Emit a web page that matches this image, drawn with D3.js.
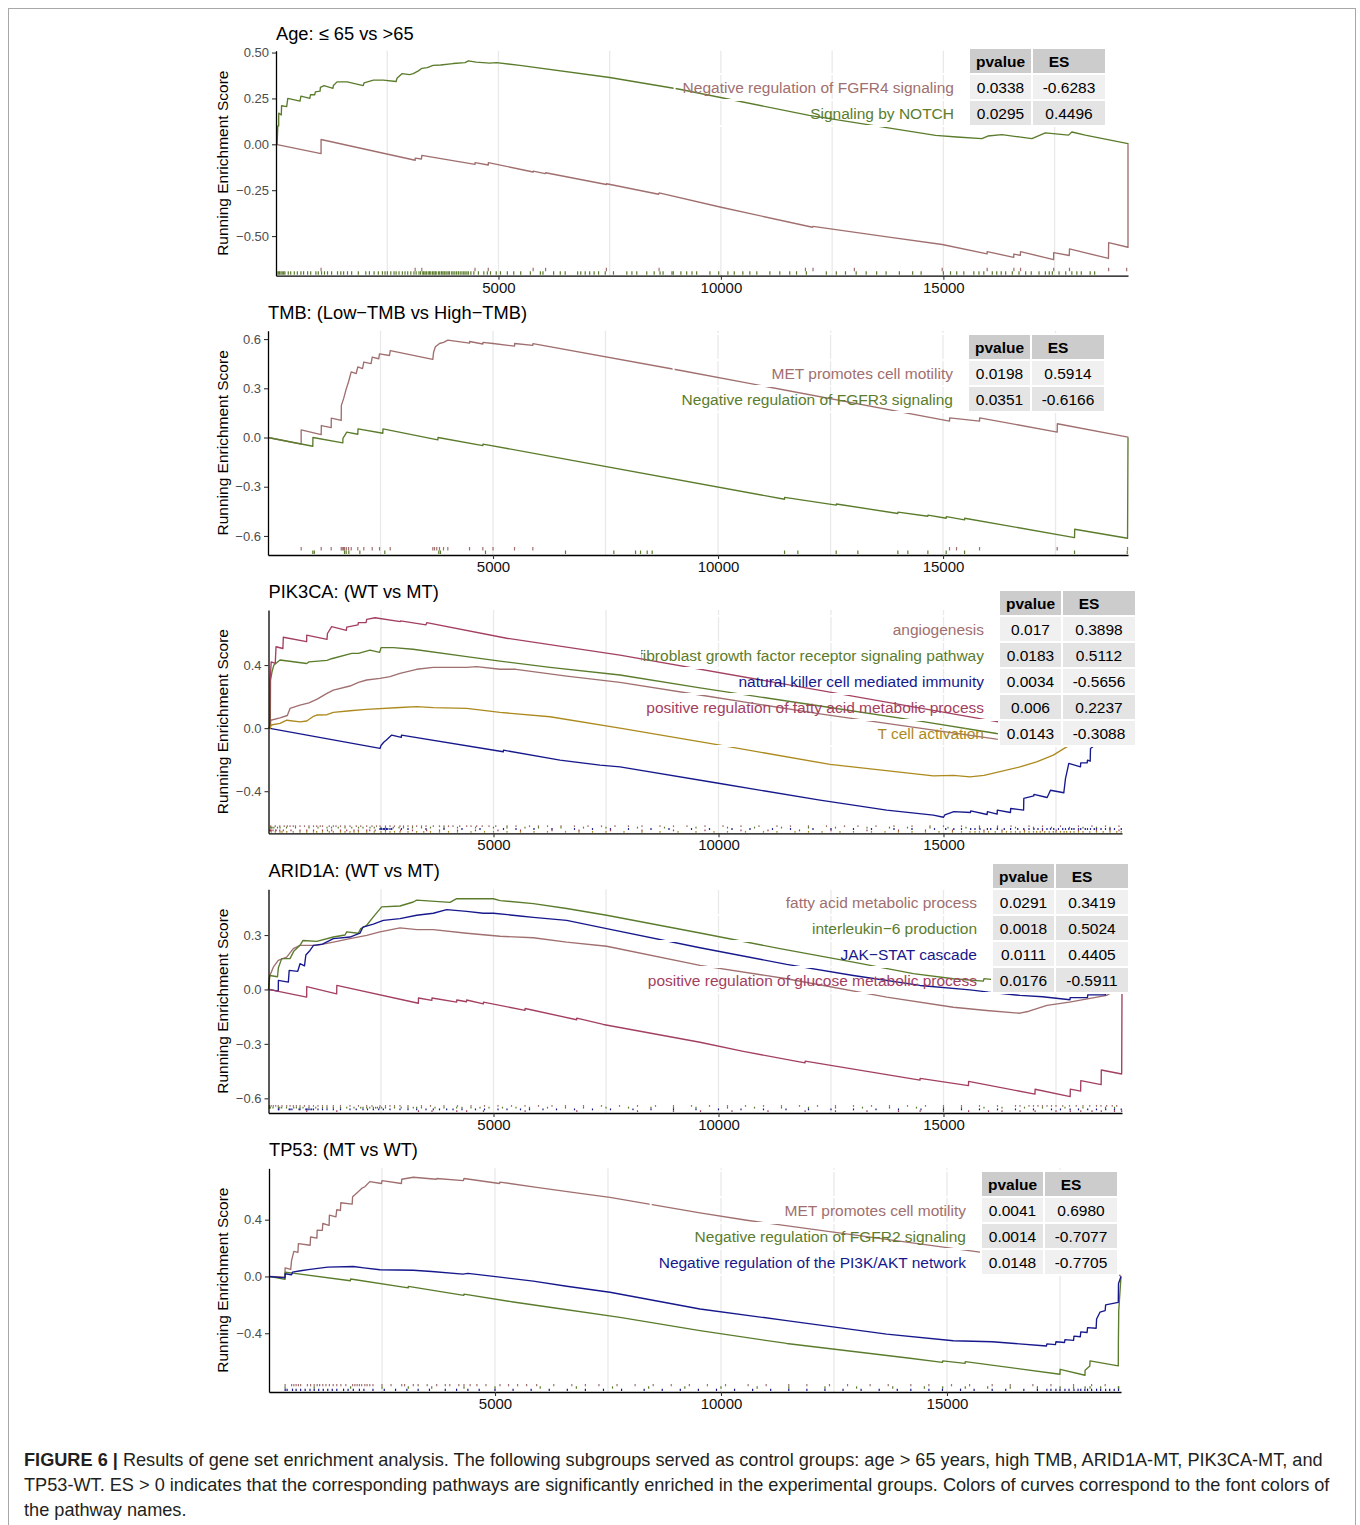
<!DOCTYPE html>
<html><head><meta charset="utf-8">
<script src="https://cdn.jsdelivr.net/npm/d3@7"></script>
<style>
body{margin:0;background:#fff}
svg{display:block}
text{font-family:"Liberation Sans",Arial,Helvetica,sans-serif}
</style>
</head><body>
<svg id="c" width="1360" height="1525"></svg>
<script>
// ---------------- DATA ----------------
const xTickValues = [5000, 10000, 15000];
const xTickLabels = ["5000", "10000", "15000"];
const gridBreaks = [2500, 5000, 7500, 10000, 12500, 15000, 17500];
const tableHeader = ["pvalue", "ES"];

// Panel 1: Age
const ageTitle = "Age: ≤ 65 vs >65";
const ageRankMax = 19150;
const ageYTicks = [0.5, 0.25, 0, -0.25, -0.5];
const ageYTickLabels = ["0.50", "0.25", "0.00", "−0.25", "−0.50"];
const agePathways = ["Negative regulation of FGFR4 signaling", "Signaling by NOTCH"];
const agePvalues = ["0.0338", "0.0295"];
const ageES = ["-0.6283", "0.4496"];
const ageFGFR4Curve = [[0,0],[1013,-0.051],[1013,0.026],[3128,-0.087],[3130,-0.075],[3270,-0.08],[3277,-0.06],[4473,-0.109],[4475,-0.10],[4771,-0.113],[4773,-0.10],[5780,-0.151],[5782,-0.146],[6050,-0.16],[6060,-0.155],[7426,-0.219],[7430,-0.215],[8600,-0.272],[8610,-0.265],[10004,-0.343],[12059,-0.452],[12070,-0.447],[13778,-0.506],[14974,-0.546],[15983,-0.597],[15985,-0.585],[16581,-0.616],[16585,-0.598],[16730,-0.605],[16735,-0.585],[17478,-0.628],[17480,-0.59],[17830,-0.606],[17835,-0.57],[18711,-0.622],[18715,-0.536],[19150,-0.561],[19150,0]];
const ageNOTCHCurve = [[0,0],[25,0],[40,0.10],[60,0.10],[62,0.17],[120,0.16],[125,0.21],[240,0.205],[265,0.25],[540,0.235],[560,0.262],[760,0.25],[775,0.27],[870,0.27],[885,0.286],[990,0.29],[998,0.31],[1080,0.32],[1280,0.305],[1290,0.32],[1372,0.34],[1600,0.34],[1960,0.32],[1980,0.335],[2190,0.35],[2410,0.35],[2700,0.342],[2720,0.36],[2830,0.385],[3000,0.38],[3085,0.385],[3200,0.40],[3280,0.414],[3400,0.418],[3530,0.43],[3700,0.432],[3980,0.44],[4250,0.445],[4323,0.455],[4500,0.448],[4650,0.445],[4800,0.442],[4960,0.445],[5480,0.43],[7500,0.364],[9070,0.30],[11984,0.158],[14825,0.049],[15300,0.04],[15865,0.031],[16000,0.045],[16317,0.053],[16700,0.04],[16990,0.031],[17292,0.062],[17814,0.05],[17888,0.067],[18188,0.05],[19150,0.004],[19150,0]];
const ageFGFR4Rug = [1013,3128,3277,4473,4771,5780,6060,7426,8610,11900,12070,13000,14974,15985,16585,16735,17480,17835,18715,19120];
const ageNOTCHRug = [20,52,80,112,140,172,200,276,330,411,480,560,620,710,780,897,950,1024,1090,1158,1250,1383,1457,1520,1607,1700,1850,2018,2100,2205,2300,2392,2450,2504,2580,2653,2700,2765,2840,2900,2960,3030,3101,3150,3214,3250,3300,3320,3350,3380,3420,3450,3480,3520,3550,3580,3600,3650,3680,3720,3750,3780,3800,3840,3870,3900,3950,3980,4020,4060,4100,4140,4180,4220,4250,4290,4323,4380,4447,4550,4671,4750,4821,4950,5045,5200,5344,5500,5717,5942,6000,6240,6390,6500,6780,6850,6950,7050,7150,7250,7400,7585,7885,8000,8109,8333,8500,8632,8700,8900,8930,9100,9230,9350,9455,9753,9950,10157,10300,10493,10650,10807,11100,11323,11547,11700,11921,12369,12594,12800,13040,13265,13500,13713,14011,14310,14500,15000,15161,15300,15460,15685,15800,15909,16100,16200,16300,16400,16550,16700,16850,16975,17150,17292,17380,17450,17600,17750,17888,18000,18100,18300,18400];

// Panel 2: TMB
const tmbTitle = "TMB: (Low−TMB vs High−TMB)";
const tmbRankMax = 19110;
const tmbYTicks = [0.6, 0.3, 0, -0.3, -0.6];
const tmbYTickLabels = ["0.6", "0.3", "0.0", "−0.3", "−0.6"];
const tmbPathways = ["MET promotes cell motility", "Negative regulation of FGFR3 signaling"];
const tmbPvalues = ["0.0198", "0.0351"];
const tmbES = ["0.5914", "-0.6166"];
const tmbMETCurve = [[0,0],[737,-0.04],[737,0.047],[1182,0.018],[1185,0.073],[1404,0.06],[1407,0.118],[1627,0.104],[1630,0.196],[1680,0.237],[1740,0.298],[1790,0.34],[1849,0.40],[1960,0.39],[1996,0.43],[2100,0.42],[2129,0.46],[2290,0.45],[2316,0.49],[2460,0.48],[2478,0.51],[2700,0.50],[2716,0.53],[3662,0.476],[3680,0.52],[3720,0.553],[3811,0.573],[3900,0.58],[3996,0.594],[4478,0.575],[4480,0.585],[4774,0.57],[4776,0.58],[5000,0.573],[5478,0.557],[5480,0.573],[5885,0.562],[5888,0.572],[9144,0.41],[15144,0.10],[15146,0.12],[15300,0.115],[15811,0.10],[15813,0.12],[17537,0.033],[17540,0.084],[19110,0.002],[19110,0]];
const tmbFGFR3Curve = [[0,0],[996,-0.053],[998,0.0],[1662,-0.033],[1665,-0.005],[1700,0.01],[1750,0.033],[1996,0.02],[2000,0.053],[2551,0.026],[2555,0.053],[3774,-0.014],[3778,0.0],[4774,-0.049],[4778,-0.04],[11478,-0.376],[11480,-0.365],[12626,-0.412],[12630,-0.405],[13996,-0.463],[14000,-0.455],[14663,-0.48],[14666,-0.473],[15070,-0.492],[15073,-0.482],[15478,-0.502],[15480,-0.492],[17922,-0.61],[17925,-0.559],[19100,-0.614],[19110,0]];
const tmbMETRug = [737,1182,1404,1627,1650,1680,1700,1740,1790,1849,1996,2129,2316,2478,2716,3662,3700,3750,3811,3900,3996,4478,4774,5000,5478,5885,15144,15300,15811,17537,19100];
const tmbFGFR3Rug = [996,1029,1700,1737,1796,2041,2596,3796,3833,4833,6611,7685,8167,8278,8426,8537,11478,11774,12626,13107,13996,14218,14663,15070,15478,17922,19093];

// Panel 3: PIK3CA
const pikTitle = "PIK3CA: (WT vs MT)";
const pikRankMax = 18967;
const pikYTicks = [0.4, 0, -0.4];
const pikYTickLabels = ["0.4", "0.0", "−0.4"];
const pikPathways = ["angiogenesis", "fibroblast growth factor receptor signaling pathway", "natural killer cell mediated immunity", "positive regulation of fatty acid metabolic process", "T cell activation"];
const pikPvalues = ["0.017", "0.0183", "0.0034", "0.006", "0.0143"];
const pikES = ["0.3898", "0.5112", "-0.5656", "0.2237", "-0.3088"];
const pikAngioCurve = [[0,0],[40,0.0],[50,0.05],[256,0.065],[418,0.08],[478,0.125],[700,0.146],[900,0.16],[1071,0.182],[1300,0.22],[1441,0.241],[1811,0.267],[2000,0.29],[2182,0.305],[2478,0.315],[2700,0.326],[2922,0.347],[3293,0.373],[3663,0.385],[4404,0.385],[4626,0.39],[5144,0.373],[5500,0.373],[6626,0.33],[7811,0.29],[9589,0.21],[12256,0.09],[16181,-0.07],[17500,-0.09],[18967,0]];
const pikFGFCurve = [[0,0],[40,0.0],[45,0.305],[80,0.36],[120,0.40],[256,0.432],[848,0.41],[900,0.42],[1300,0.43],[1400,0.44],[1850,0.474],[2000,0.474],[2255,0.495],[2470,0.48],[2500,0.51],[2773,0.51],[3211,0.50],[4404,0.453],[5144,0.425],[6256,0.385],[7811,0.337],[9589,0.255],[12256,0.14],[14478,0.044],[16181,-0.034],[17500,-0.06],[18967,0]];
const pikNKCurve = [[0,0],[2478,-0.129],[2500,-0.11],[2560,-0.09],[2620,-0.075],[2738,-0.044],[2952,-0.059],[2955,-0.044],[5218,-0.15],[5222,-0.14],[6478,-0.203],[7367,-0.235],[7811,-0.246],[10033,-0.351],[12256,-0.457],[13737,-0.52],[14774,-0.552],[15000,-0.565],[15030,-0.55],[15230,-0.53],[15600,-0.535],[15605,-0.525],[15970,-0.548],[15975,-0.53],[16193,-0.545],[16196,-0.52],[16489,-0.535],[16492,-0.51],[16780,-0.52],[16785,-0.446],[17007,-0.43],[17010,-0.42],[17304,-0.44],[17378,-0.394],[17674,-0.41],[17711,-0.32],[17785,-0.224],[18044,-0.246],[18050,-0.22],[18193,-0.22],[18200,-0.203],[18260,-0.21],[18267,-0.129],[18600,-0.06],[18967,0]];
const pikFattyCurve = [[0,0],[30,0.0],[35,0.30],[60,0.42],[150,0.41],[167,0.516],[320,0.505],[329,0.576],[848,0.548],[850,0.59],[1300,0.563],[1310,0.60],[1404,0.643],[1730,0.62],[1738,0.64],[1990,0.655],[1996,0.669],[2170,0.67],[2182,0.69],[2367,0.70],[2930,0.675],[2935,0.68],[3500,0.655],[3515,0.669],[5293,0.57],[7811,0.463],[16218,0.04],[17500,-0.02],[17505,0.03],[18960,-0.04],[18967,0]];
const pikTcellCurve = [[0,0],[40,0.0],[60,0.02],[256,0.03],[406,0.05],[700,0.04],[850,0.045],[1000,0.075],[1071,0.083],[1300,0.085],[1441,0.10],[1811,0.11],[2182,0.119],[2922,0.131],[3293,0.136],[3663,0.13],[4404,0.125],[5144,0.10],[6256,0.072],[7811,0.0],[10033,-0.108],[12478,-0.23],[14774,-0.303],[15220,-0.30],[15589,-0.309],[15900,-0.30],[16700,-0.246],[17070,-0.214],[17440,-0.171],[17737,-0.119],[18100,-0.08],[18967,0]];
const pikAngioRug = [50,150,250,350,418,478,550,600,700,800,900,1000,1071,1150,1200,1350,1441,1500,1600,1700,1811,1950,2050,2182,2300,2400,2478,2600,2700,2800,2922,3000,3100,3200,3293,3400,3500,3663,3800,3900,4000,4100,4250,4404,4500,4626,4750,4900,5050,5300,5500,5800,6000,6200,6500,6800,7100,7400,7700,8000,8300,8700,9000,9300,9700,10100,10500,10900,11300,11600,12000,12400,12800,13100,13500,13900,14300,14700,15000,15400,15800,16200,16500,16900,17200,17600,18000,18300,18600,18900];
const pikFGFRug = [45,60,80,120,200,256,400,600,900,1100,1300,1400,1550,1700,1850,2000,2100,2255,2350,2500,2600,2773,2900,3000,3200,3400,3600,3900,4200,4600,5000,5300,5700,6000,6500,7000,7500,8200,8800,9500,10200,10800,11400,12000,12600,13300,13800,14200,14700,15100,15500,15800,16200,16600,17000,17400,17800,18100,18400,18700];
const pikNKRug = [2478,2500,2520,2560,2580,2620,2650,2700,2738,2955,3100,3500,3900,4300,4700,5222,5500,5900,6300,6800,7200,7600,8000,8500,8900,9400,9800,10300,10700,11200,11600,12100,12500,13000,13400,13900,14300,14800,15050,15230,15400,15605,15700,15810,15975,16050,16196,16350,16492,16650,16785,16900,17010,17100,17200,17300,17378,17450,17555,17650,17711,17785,17850,17900,18000,18050,18150,18200,18267,18350,18400,18500,18600,18700,18800,18950];
const pikFattyRug = [30,35,45,60,100,160,167,250,329,500,700,850,1000,1200,1310,1404,1600,1738,1900,1996,2182,2250,2370,2600,2935,3200,3515,3800,4200,4600,5100,5600,6300,6900,7600,8300,9000,9700,10500,11100,11800,12500,13300,14000,14600,15200,15900,16300,16800,17200,17505,18000,18400,18700,18900];
const pikTcellRug = [60,150,256,300,406,550,700,850,1000,1071,1200,1350,1441,1600,1700,1811,1900,2000,2182,2350,2500,2600,2700,2800,2922,3100,3293,3450,3600,3800,4000,4200,4500,4800,5000,5300,5600,5900,6200,6600,6900,7200,7500,7900,8300,8700,9100,9500,9900,10200,10600,11000,11300,11700,12000,12300,12700,13000,13400,13700,14000,14300,14600,14900,15200,15400,15589,15700,15800,15900,16000,16150,16300,16400,16500,16600,16700,16800,16900,17000,17070,17150,17250,17350,17440,17500,17600,17680,17737,17820,17900,18000,18100,18250,18400,18550,18700,18850,18950];

// Panel 4: ARID1A
const aridTitle = "ARID1A: (WT vs MT)";
const aridRankMax = 18967;
const aridYTicks = [0.3, 0, -0.3, -0.6];
const aridYTickLabels = ["0.3", "0.0", "−0.3", "−0.6"];
const aridPathways = ["fatty acid metabolic process", "interleukin−6 production", "JAK−STAT cascade", "positive regulation of glucose metabolic process"];
const aridPvalues = ["0.0291", "0.0018", "0.0111", "0.0176"];
const aridES = ["0.3419", "0.5024", "0.4405", "-0.5911"];
const aridFattyCurve = [[0,0],[20,0.07],[107,0.123],[217,0.16],[404,0.178],[552,0.225],[700,0.243],[1071,0.243],[1441,0.261],[1811,0.28],[2182,0.298],[2478,0.317],[2922,0.339],[3300,0.33],[3663,0.33],[4404,0.31],[5144,0.293],[5885,0.285],[6626,0.261],[7515,0.238],[9589,0.133],[11515,0.059],[13737,-0.042],[15218,-0.098],[15958,-0.116],[16700,-0.131],[16900,-0.12],[17300,-0.088],[17800,-0.07],[18626,-0.033],[18850,0],[18967,0]];
const aridIL6Curve = [[0,0],[20,0.05],[30,0.077],[200,0.07],[220,0.12],[293,0.17],[478,0.17],[560,0.21],[700,0.243],[767,0.27],[1071,0.265],[1441,0.289],[1700,0.30],[1738,0.317],[1996,0.31],[2050,0.335],[2182,0.354],[2330,0.40],[2515,0.455],[2922,0.46],[3218,0.482],[3292,0.492],[4033,0.48],[4181,0.501],[4774,0.5],[4996,0.5],[5150,0.49],[5885,0.473],[6626,0.446],[7515,0.409],[9589,0.311],[11366,0.225],[12996,0.151],[14330,0.087],[15218,0.059],[15885,0.046],[15900,0.06],[17000,0.03],[18967,0]];
const aridJAKCurve = [[0,0],[217,-0.009],[220,0.05],[441,0.04],[460,0.105],[650,0.10],[700,0.142],[800,0.13],[830,0.19],[922,0.215],[1000,0.243],[1200,0.25],[1441,0.28],[1811,0.289],[2033,0.31],[2100,0.344],[2330,0.36],[2552,0.381],[2922,0.39],[3293,0.409],[3663,0.42],[3959,0.44],[4404,0.43],[4774,0.42],[5000,0.42],[5589,0.405],[5885,0.397],[6626,0.381],[7515,0.335],[9589,0.23],[11515,0.138],[12996,0.077],[14478,0.022],[15589,-0.002],[16000,-0.015],[16700,-0.033],[17200,-0.04],[17811,-0.057],[17815,-0.045],[18200,-0.045],[18205,-0.03],[18600,-0.03],[18605,-0.01],[18967,0]];
const aridGlucoseCurve = [[0,0],[848,-0.042],[850,0.016],[1515,-0.024],[1518,0.022],[3330,-0.076],[3333,-0.047],[3630,-0.06],[3633,-0.047],[4181,-0.07],[4184,-0.058],[4400,-0.068],[4404,-0.058],[4774,-0.08],[4777,-0.07],[5700,-0.115],[5703,-0.105],[6848,-0.167],[6851,-0.158],[7441,-0.193],[9589,-0.291],[10552,-0.341],[11922,-0.405],[11925,-0.395],[14478,-0.5],[14481,-0.49],[15555,-0.53],[15558,-0.507],[17033,-0.577],[17036,-0.55],[17815,-0.591],[17818,-0.549],[18048,-0.56],[18051,-0.503],[18504,-0.525],[18507,-0.444],[18960,-0.466],[18967,0]];
const aridFattyRug = [20,60,107,160,217,300,404,480,552,620,700,800,900,1000,1100,1200,1300,1441,1600,1811,2000,2182,2300,2478,2600,2700,2800,2922,3100,3400,3600,3900,4200,4500,4800,5100,5400,5700,6000,6300,6600,7000,7400,7800,8200,8600,9000,9400,9800,10200,10600,11000,11400,11800,12200,12600,13000,13400,13800,14200,14600,15000,15400,15800,16200,16600,16700,16900,17000,17100,17200,17300,17400,17500,17650,17800,17950,18100,18250,18400,18500,18626,18750,18850];
const aridIL6Rug = [20,30,40,100,220,250,293,400,560,620,700,767,900,1050,1200,1300,1441,1600,1738,1900,2050,2100,2182,2250,2330,2380,2420,2470,2515,2600,2800,2950,3100,3218,3292,3400,3700,3900,4181,4300,4500,4700,4900,5200,5500,5800,6200,6600,7000,7500,8000,8500,9000,9500,10200,10800,11400,12000,12600,13200,13800,14400,15000,15400,15900,16300,16800,17200,17700,18100,18600,18800];
const aridJAKRug = [220,230,460,480,520,680,700,830,850,880,922,960,1000,1100,1200,1300,1441,1600,1811,1950,2100,2200,2330,2450,2552,2700,2922,3100,3293,3500,3663,3800,3959,4100,4300,4600,4800,5100,5300,5600,5800,6100,6400,6800,7200,7600,8100,8500,9000,9500,10000,10500,11000,11500,12000,12500,13000,13500,14000,14500,15000,15400,15800,16200,16600,17000,17400,17600,17815,18000,18205,18400,18605,18800,18950];
const aridGlucoseRug = [850,1518,3333,3633,4184,4404,4777,5703,6851,8200,9000,9600,10300,11100,11925,12600,13300,14000,14481,15000,15558,16000,16300,16700,17036,17500,17818,18051,18300,18507,18800,18960];

// Panel 5: TP53
const tpTitle = "TP53: (MT vs WT)";
const tpRankMax = 18850;
const tpYTicks = [0.4, 0, -0.4];
const tpYTickLabels = ["0.4", "0.0", "−0.4"];
const tpPathways = ["MET promotes cell motility", "Negative regulation of FGFR2 signaling", "Negative regulation of the PI3K/AKT network"];
const tpPvalues = ["0.0041", "0.0014", "0.0148"];
const tpES = ["0.6980", "-0.7077", "-0.7705"];
const tpMETCurve = [[0,0],[354,-0.005],[356,0.061],[480,0.05],[500,0.113],[550,0.177],[640,0.17],[650,0.231],[910,0.22],[920,0.278],[1060,0.27],[1066,0.326],[1180,0.325],[1190,0.373],[1330,0.36],[1336,0.432],[1480,0.42],[1500,0.47],[1580,0.465],[1590,0.519],[1840,0.51],[1850,0.561],[1950,0.59],[2050,0.62],[2120,0.632],[2230,0.668],[2490,0.655],[2500,0.675],[2930,0.655],[2936,0.685],[3193,0.699],[3700,0.685],[3710,0.69],[4300,0.675],[4314,0.69],[5100,0.655],[5110,0.665],[5922,0.628],[6881,0.585],[7544,0.557],[9535,0.448],[10569,0.396],[15730,0.172],[18827,0.007],[18850,0]];
const tpFGFR2Curve = [[0,0],[354,-0.02],[356,0.03],[1800,-0.03],[1806,-0.018],[3080,-0.08],[3082,-0.07],[4310,-0.133],[4314,-0.125],[5405,-0.18],[6364,-0.224],[7765,-0.288],[9535,-0.382],[11453,-0.472],[14181,-0.576],[14900,-0.605],[14905,-0.595],[15400,-0.612],[15405,-0.6],[17500,-0.689],[17503,-0.654],[18053,-0.696],[18056,-0.66],[18160,-0.63],[18165,-0.595],[18790,-0.63],[18792,-0.48],[18800,-0.24],[18850,0]];
const tpPI3KCurve = [[0,0],[354,-0.01],[358,0.019],[500,0.012],[520,0.03],[700,0.04],[907,0.05],[1300,0.066],[1865,0.07],[2100,0.06],[2456,0.047],[3193,0.044],[3600,0.035],[4290,0.016],[4400,0.022],[5110,-0.005],[5848,-0.033],[6586,-0.069],[7544,-0.111],[9535,-0.229],[11453,-0.311],[13665,-0.406],[15140,-0.453],[16000,-0.46],[17131,-0.488],[17200,-0.49],[17210,-0.475],[17400,-0.48],[17410,-0.46],[17600,-0.465],[17610,-0.445],[17800,-0.45],[17810,-0.42],[17950,-0.425],[17960,-0.39],[18100,-0.395],[18110,-0.36],[18300,-0.365],[18310,-0.3],[18385,-0.252],[18500,-0.24],[18510,-0.2],[18790,-0.182],[18795,-0.05],[18850,0]];
const tpMETRug = [356,500,550,600,650,700,850,920,1000,1066,1120,1190,1260,1336,1420,1500,1590,1700,1850,1900,1950,2000,2050,2120,2170,2230,2300,2500,2700,2936,3000,3193,3300,3500,3710,3900,4000,4200,4314,4450,4600,4800,5110,5300,5500,5700,5922,6300,6700,7000,7300,7700,8100,8500,8900,9300,9700,10100,10600,11000,11500,11900,12400,12800,13300,13700,14200,14600,15100,15500,16000,16400,16900,17300,17800,18200,18500];
const tpFGFR2Rug = [356,1000,1806,2500,3082,3600,4314,5000,6000,6800,7600,8400,9200,10000,10800,11500,12300,13000,13800,14500,14905,15405,15900,16400,17000,17503,17800,18056,18165,18400,18792,18800];
const tpPI3KRug = [358,400,520,600,700,800,907,1000,1100,1200,1300,1400,1500,1650,1750,1865,2000,2100,2300,2550,2800,3050,3300,3550,3900,4150,4400,4650,5000,5400,5800,6200,6600,7000,7400,7800,8300,8700,9100,9500,9900,10300,10700,11100,11500,11900,12300,12700,13100,13500,13900,14200,14600,14900,15300,15600,16000,16300,16700,17000,17210,17300,17410,17500,17610,17700,17810,17900,17960,18050,18110,18200,18310,18400,18510,18600,18700,18795];

// Colours
const cBrown = "#a06f6f", cGreen = "#5b7c2c", cBlue = "#16188c", cMaroon = "#a3405f", cGold = "#ad8a1e";

const captionLines = [
  [["FIGURE 6 | ", true], ["Results of gene set enrichment analysis. The following subgroups served as control groups: age > 65 years, high TMB, ARID1A-MT, PIK3CA-MT, and", false]],
  [["TP53-WT. ES > 0 indicates that the corresponding pathways are significantly enriched in the experimental groups. Colors of curves correspond to the font colors of", false]],
  [["the pathway names.", false]]
];

// ---------------- PANEL DEFINITIONS (data + layout) ----------------
function mk(names, pv, es, colors, curves, rugs) {
  return names.map((n, i) => ({name: n, p: pv[i], es: es[i], color: colors[i], curve: curves[i], rug: rugs[i]}));
}
const panels = [
  {title: ageTitle, n: ageRankMax, yTicks: ageYTicks, yLabels: ageYTickLabels,
   series: mk(agePathways, agePvalues, ageES, [cBrown, cGreen], [ageFGFR4Curve, ageNOTCHCurve], [ageFGFR4Rug, ageNOTCHRug]),
   x0: 276, x1: 1128, yTop: 50.7, yBot: 275.7, titleY: 39.5, yDom: [-0.716, 0.51], tLeft: 969, tTop: 48, clipLeft: null},
  {title: tmbTitle, n: tmbRankMax, yTicks: tmbYTicks, yLabels: tmbYTickLabels,
   series: mk(tmbPathways, tmbPvalues, tmbES, [cBrown, cGreen], [tmbMETCurve, tmbFGFR3Curve], [tmbMETRug, tmbFGFR3Rug]),
   x0: 268, x1: 1128, yTop: 330.7, yBot: 555, titleY: 318.5, yDom: [-0.716, 0.651], tLeft: 968, tTop: 334, clipLeft: null},
  {title: pikTitle, n: pikRankMax, yTicks: pikYTicks, yLabels: pikYTickLabels,
   series: mk(pikPathways, pikPvalues, pikES, [cBrown, cGreen, cBlue, cMaroon, cGold], [pikAngioCurve, pikFGFCurve, pikNKCurve, pikFattyCurve, pikTcellCurve], [pikAngioRug, pikFGFRug, pikNKRug, pikFattyRug, pikTcellRug]),
   x0: 268.5, x1: 1122, yTop: 610, yBot: 833.3, titleY: 597.5, yDom: [-0.667, 0.749], tLeft: 999, tTop: 590, clipLeft: 641},
  {title: aridTitle, n: aridRankMax, yTicks: aridYTicks, yLabels: aridYTickLabels,
   series: mk(aridPathways, aridPvalues, aridES, [cBrown, cGreen, cBlue, cMaroon], [aridFattyCurve, aridIL6Curve, aridJAKCurve, aridGlucoseCurve], [aridFattyRug, aridIL6Rug, aridJAKRug, aridGlucoseRug]),
   x0: 268.5, x1: 1122, yTop: 889.3, yBot: 1113, titleY: 877, yDom: [-0.681, 0.552], tLeft: 992, tTop: 863, clipLeft: 648},
  {title: tpTitle, n: tpRankMax, yTicks: tpYTicks, yLabels: tpYTickLabels,
   series: mk(tpPathways, tpPvalues, tpES, [cBrown, cGreen, cBlue], [tpMETCurve, tpFGFR2Curve, tpPI3KCurve], [tpMETRug, tpFGFR2Rug, tpPI3KRug]),
   x0: 269, x1: 1121, yTop: 1168.3, yBot: 1392, titleY: 1156, yDom: [-0.814, 0.762], tLeft: 981, tTop: 1171, clipLeft: null}
];

// ---------------- DRAW ----------------
const svg = d3.select("#c");
svg.append("rect").attr("width", 1360).attr("height", 1525).attr("fill", "#fff");
svg.append("rect").attr("x", 8.5).attr("y", 8.5).attr("width", 1347).attr("height", 1560)
  .attr("fill", "none").attr("stroke", "#a8a8a8").attr("stroke-width", 1);

function drawPanel(p, idx) {
  const g = svg.append("g");
  const x = d3.scaleLinear().domain([0, p.n]).range([p.x0, p.x1]);
  const y = d3.scaleLinear().domain(p.yDom).range([p.yBot, p.yTop]);

  g.append("g").selectAll("line").data(gridBreaks.filter(b => b < p.n)).join("line")
    .attr("x1", d => x(d)).attr("x2", d => x(d)).attr("y1", p.yTop).attr("y2", p.yBot)
    .attr("stroke", "#e9e9e9").attr("stroke-width", 1.3);

  const H = 7, ns = p.series.length, h = H / ns;
  p.series.forEach((s, i) => {
    const yr = p.yBot - 1 - H + i * h;
    g.append("g").selectAll("line").data(s.rug).join("line")
      .attr("x1", d => x(d)).attr("x2", d => x(d))
      .attr("y1", yr).attr("y2", yr + Math.max(h, 1.8))
      .attr("stroke", s.color).attr("stroke-width", 1.2);
  });

  const line = d3.line().x(d => x(d[0])).y(d => y(d[1]));
  p.series.forEach(s => {
    g.append("path").attr("d", line(s.curve)).attr("fill", "none")
      .attr("stroke", s.color).attr("stroke-width", 1.35).attr("stroke-linejoin", "round");
  });

  // axes
  const ya = g.append("g").attr("transform", `translate(${p.x0},0)`)
    .call(d3.axisLeft(y).tickValues(p.yTicks).tickFormat((d, i) => p.yLabels[i]).tickSize(4).tickSizeOuter(0).tickPadding(3));
  ya.select(".domain").attr("stroke", "#000").attr("stroke-width", 1.3);
  ya.selectAll(".tick line").attr("stroke", "#333").attr("stroke-width", 1.1);
  ya.selectAll(".tick text").attr("fill", "#4d4d4d").style("font-size", "13px")
    .style("font-family", '"Liberation Sans",Arial,sans-serif');

  const xa = g.append("g").attr("transform", `translate(0,${p.yBot})`)
    .call(d3.axisBottom(x).tickValues(xTickValues).tickFormat((d, i) => xTickLabels[i]).tickSize(4).tickSizeOuter(0).tickPadding(2.5));
  xa.select(".domain").attr("stroke", "#000").attr("stroke-width", 1.3);
  xa.selectAll(".tick line").attr("stroke", "#333").attr("stroke-width", 1.1);
  xa.selectAll(".tick text").attr("fill", "#111").style("font-size", "15px")
    .style("font-family", '"Liberation Sans",Arial,sans-serif');

  // title
  g.append("text").attr("x", p.x0).attr("y", p.titleY).attr("fill", "#000")
    .style("font-size", "18.3px").text(p.title);
  // y label
  const cy = (p.yTop + p.yBot) / 2;
  g.append("text").attr("transform", `translate(228,${cy}) rotate(-90)`).attr("text-anchor", "middle")
    .attr("fill", "#000").style("font-size", "15.5px").text("Running Enrichment Score");

  // table
  const rowH = 26, c1 = 63, c2 = 74, fs = "15.5px";
  const tl = p.tLeft, tt = p.tTop;
  const clipId = "clip" + idx;
  const labG = g.append("g");
  if (p.clipLeft !== null) {
    g.append("clipPath").attr("id", clipId).append("rect")
      .attr("x", p.clipLeft).attr("y", 0).attr("width", 1360 - p.clipLeft).attr("height", 1525);
    labG.attr("clip-path", `url(#${clipId})`);
  }
  const labels = labG.selectAll("text").data(p.series).join("text")
    .attr("x", tl - 15).attr("y", (d, i) => tt + rowH * (i + 1) + rowH / 2 + 5.5)
    .attr("text-anchor", "end").attr("fill", d => d.color).style("font-size", fs).text(d => d.name);
  let maxW = 0;
  labels.each(function () { maxW = Math.max(maxW, this.getComputedTextLength()); });
  const labLeft = tl - 15 - maxW - 8;
  labG.selectAll("rect").data(d3.range(p.series.length + 1)).join("rect")
    .attr("x", labLeft).attr("y", i => tt + i * rowH).attr("width", tl - labLeft).attr("height", rowH)
    .attr("fill", "none").attr("stroke", "#fff").attr("stroke-width", 2);

  const tg = g.append("g");
  const rowsIdx = d3.range(p.series.length + 1);
  rowsIdx.forEach(i => {
    const fill = i === 0 ? "#cccccc" : (i % 2 === 1 ? "#f0f0f0" : "#e4e4e4");
    tg.append("rect").attr("x", tl).attr("y", tt + i * rowH).attr("width", c1).attr("height", rowH)
      .attr("fill", fill).attr("stroke", "#fff").attr("stroke-width", 2);
    tg.append("rect").attr("x", tl + c1).attr("y", tt + i * rowH).attr("width", c2).attr("height", rowH)
      .attr("fill", fill).attr("stroke", "#fff").attr("stroke-width", 2);
  });
  tg.append("text").attr("x", tl + c1 / 2).attr("y", tt + rowH / 2 + 5.5).attr("text-anchor", "middle")
    .attr("fill", "#000").style("font-weight", "bold").style("font-size", fs).text(tableHeader[0]);
  tg.append("text").attr("x", tl + c1 + c2 / 2 - 10).attr("y", tt + rowH / 2 + 5.5).attr("text-anchor", "middle")
    .attr("fill", "#000").style("font-weight", "bold").style("font-size", fs).text(tableHeader[1]);
  p.series.forEach((s, i) => {
    const yy = tt + rowH * (i + 1) + rowH / 2 + 5.5;
    tg.append("text").attr("x", tl + c1 / 2).attr("y", yy).attr("text-anchor", "middle")
      .attr("fill", "#000").style("font-size", fs).text(s.p);
    tg.append("text").attr("x", tl + c1 + c2 / 2).attr("y", yy).attr("text-anchor", "middle")
      .attr("fill", "#000").style("font-size", fs).text(s.es);
  });
}
panels.forEach(drawPanel);

// caption
const capG = svg.append("g");
const capBase = [1466, 1491, 1516];
const capTexts = captionLines.map((parts, li) => {
  const t = capG.append("text").attr("x", 24).attr("y", capBase[li]).attr("fill", "#231f20").style("font-size", "17px");
  parts.forEach(([s, b]) => t.append("tspan").style("font-weight", b ? "bold" : "normal").text(s));
  return t;
});
const w0 = capTexts[0].node().getComputedTextLength();
const fsCap = 17 * 1299 / w0;
capTexts.forEach(t => t.style("font-size", fsCap + "px"));
</script>
</body></html>
